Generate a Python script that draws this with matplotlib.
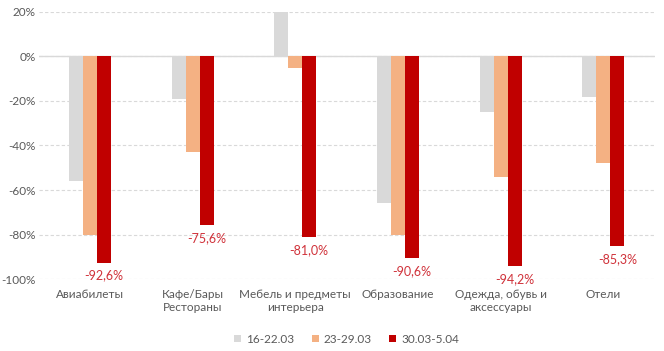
import matplotlib.pyplot as plt
import numpy as np
from matplotlib.ticker import FuncFormatter

categories = ["Авиабилеты", "Кафе/Бары\nРестораны", "Мебель и предметы\nинтерьера",
              "Образование", "Одежда, обувь и\nаксессуары", "Отели"]
series_names = ["16-22.03", "23-29.03", "30.03-5.04"]
week1 = [-56, -19, 20, -66, -25, -18]
week2 = [-80, -43, -5, -80, -54, -48]
week3 = [-92.6, -75.6, -81.0, -90.6, -94.2, -85.3]
colors = ["#D9D9D9", "#F4B183", "#C00000"]

plt.rcParams['font.family'] = ['Lato', 'DejaVu Sans']

fig = plt.figure(figsize=(6.64, 3.51), dpi=100)
ax = fig.add_axes([0.058, 0.205, 0.928, 0.761])

x = np.arange(len(categories))
w = 0.136
for i, (vals, name, c) in enumerate(zip([week1, week2, week3], series_names, colors)):
    ax.bar(x + (i - 1) * w, vals, w, color=c, label=name, zorder=3)

# labels under the last series
for xi, v in zip(x, week3):
    ax.annotate(f"{v:.1f}%".replace(".", ","), (xi + w, v), xytext=(0, -5),
                textcoords="offset points", ha="center", va="top",
                color="#D0323A", fontsize=9)

ax.set_xlim(-0.5, len(categories) - 0.5)
ax.set_ylim(-100, 20)
ax.set_yticks(np.arange(-100, 21, 20))
ax.yaxis.set_major_formatter(FuncFormatter(lambda v, p: f"{v:.0f}%"))
ax.set_xticks(x)
ax.set_xticklabels(categories)
ax.tick_params(axis='both', length=0, labelsize=8.5, colors="#595959")
ax.tick_params(axis='x', pad=7)
ax.tick_params(axis='y', pad=2)

ax.grid(axis='y', color="#D9D9D9", linestyle=(0, (3, 2)), linewidth=0.8, zorder=0)
ax.axhline(0, color="#D9D9D9", linewidth=1, zorder=1)
for s in ax.spines.values():
    s.set_visible(False)

ax.legend(loc="upper center", bbox_to_anchor=(0.5, -0.165), ncol=3, frameon=False,
          fontsize=8.5, handlelength=0.6, handleheight=0.6, handletextpad=0.4,
          columnspacing=1.5, labelcolor="#595959")

fig.savefig("out.png", dpi=100)
